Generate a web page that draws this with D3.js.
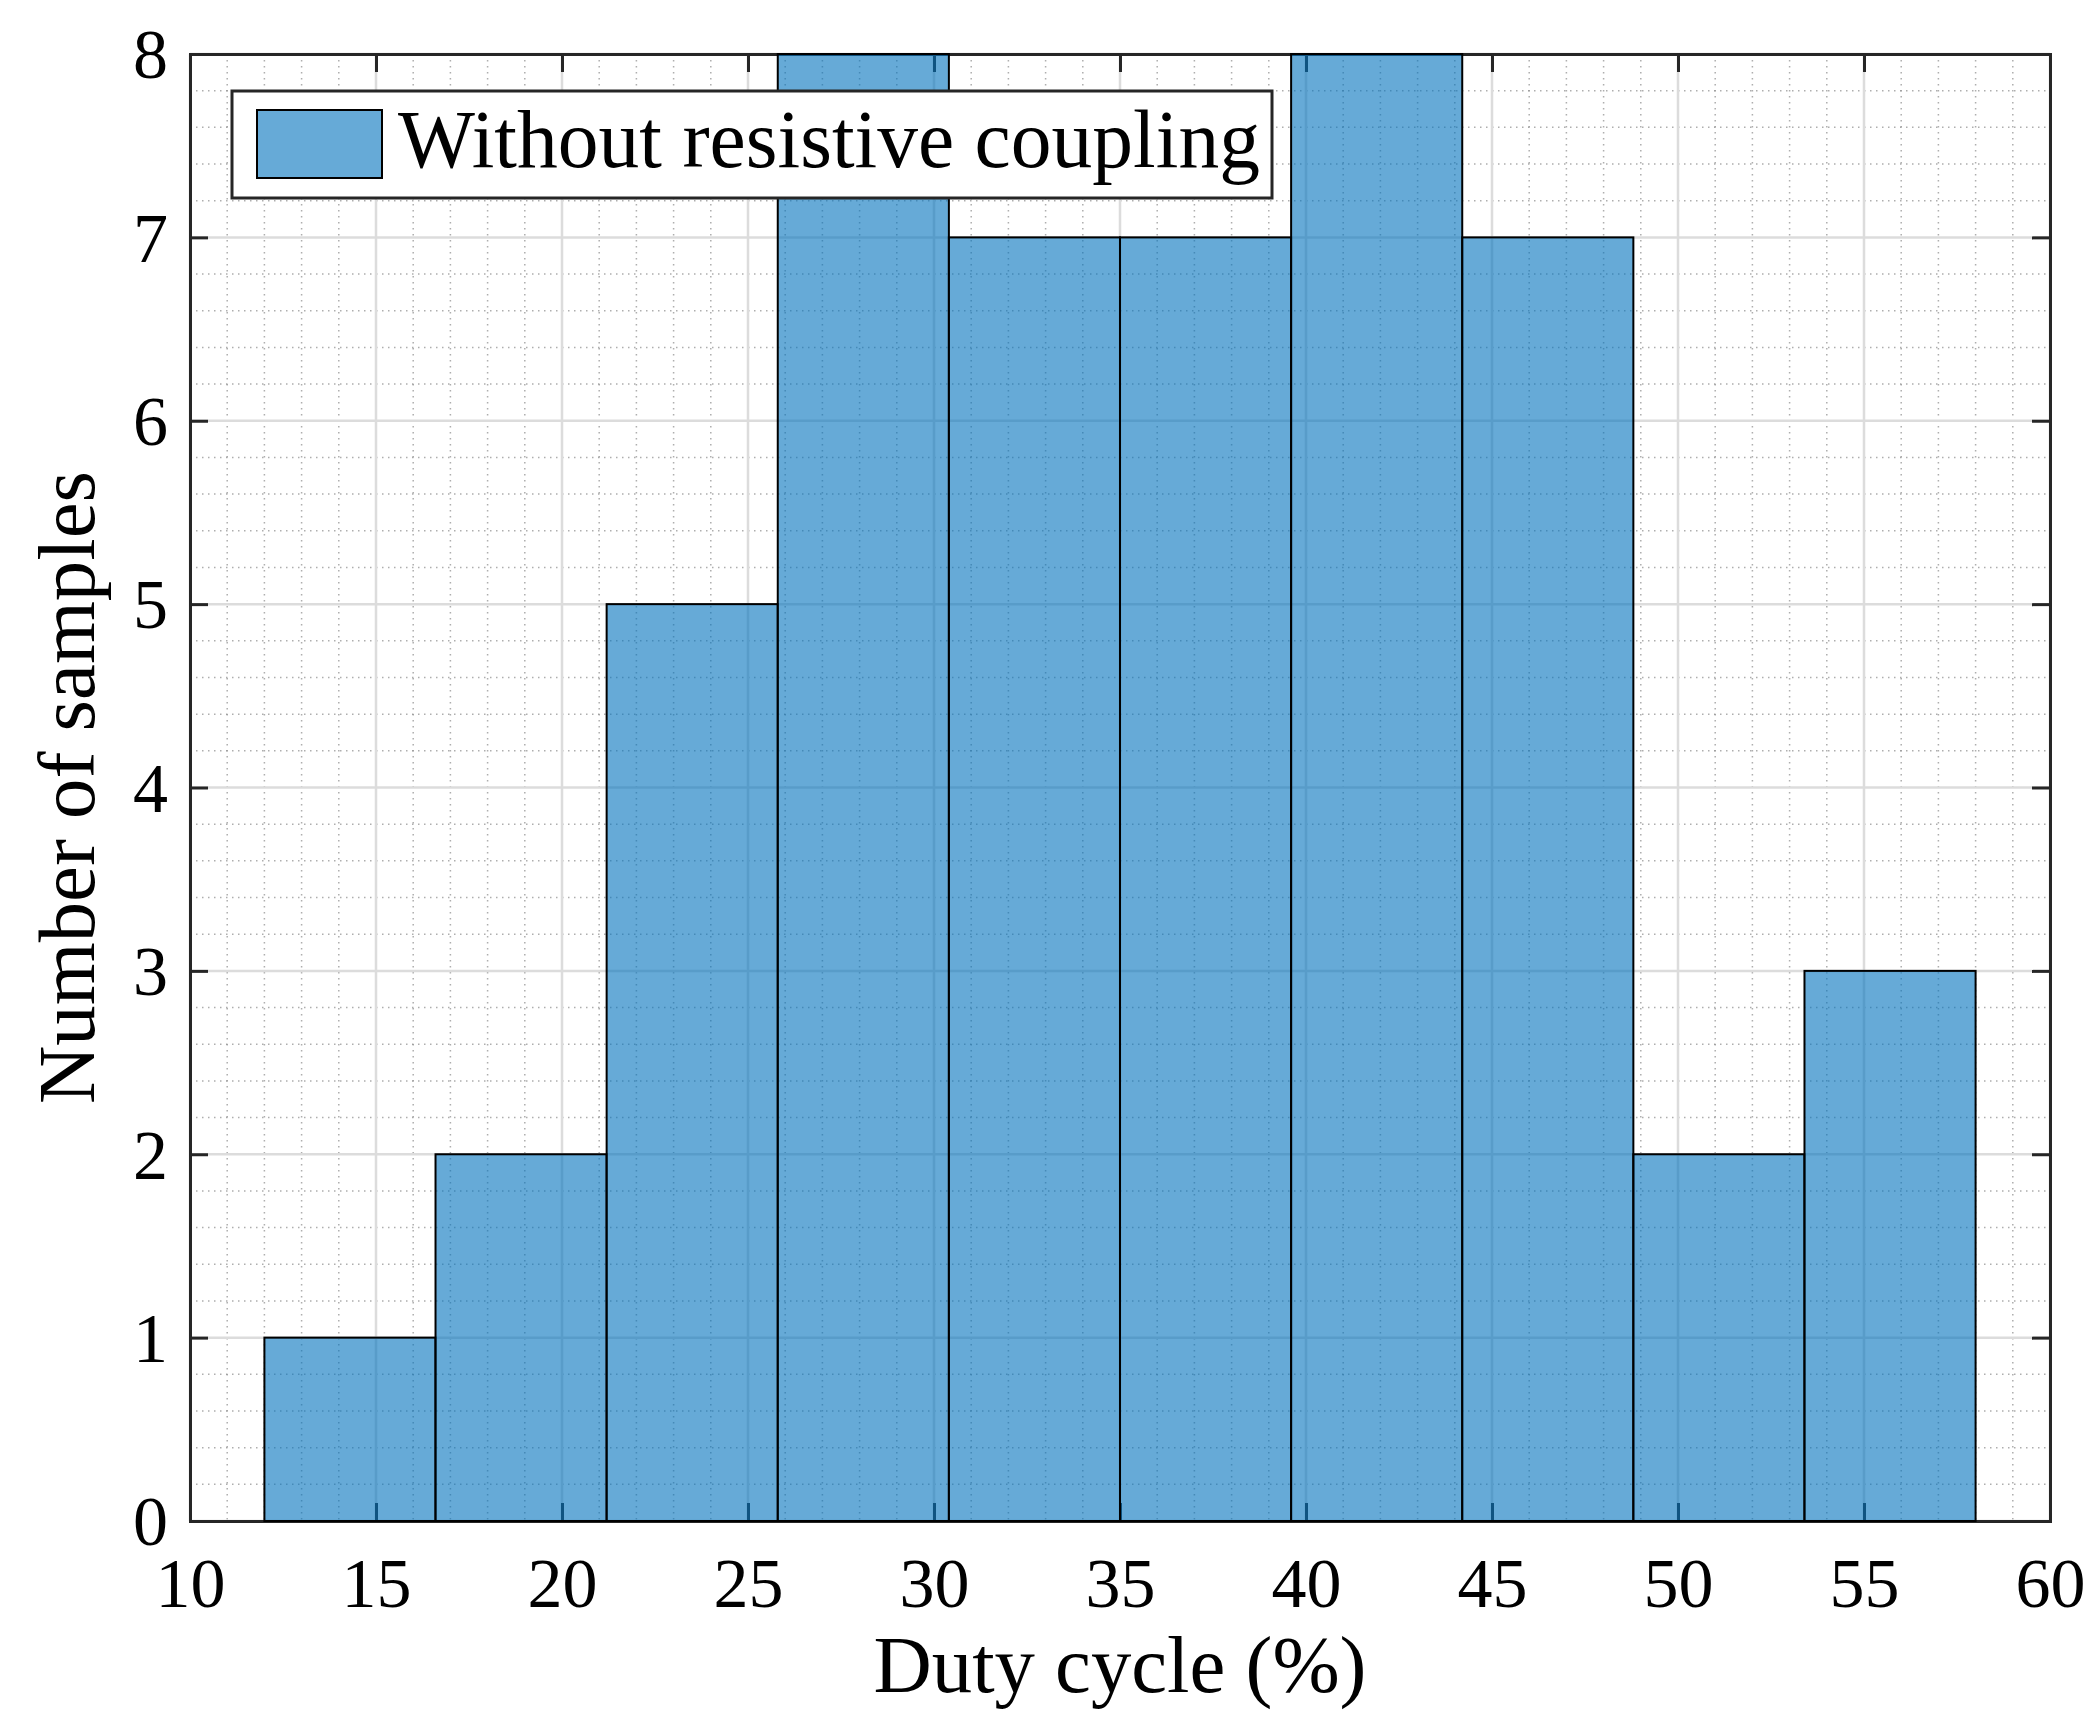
<!DOCTYPE html>
<html>
<head>
<meta charset="utf-8">
<script src="https://cdn.jsdelivr.net/npm/d3@7"></script>
<style>
  body { margin: 0; background: #fff; }
  text { font-family: "Liberation Serif", "DejaVu Serif", serif; fill: #000; }
</style>
</head>
<body>
<script>
// histogram data
var binEdges = [12.0, 16.6, 21.2, 25.8, 30.4, 35.0, 39.6, 44.2, 48.8, 53.4, 58.0];
var counts = [1, 2, 5, 8, 7, 7, 8, 7, 2, 3];
var xTicks = [10, 15, 20, 25, 30, 35, 40, 45, 50, 55, 60];
var yTicks = [0, 1, 2, 3, 4, 5, 6, 7, 8];
var legendLabel = "Without resistive coupling";
var xLabel = "Duty cycle (%)";
var yLabel = "Number of samples";

var svgWidth = 2100;
var svgHeight = 1714;
var margin = { top: 54, right: 50, bottom: 193, left: 190 };
var width = svgWidth - margin.left - margin.right;
var height = svgHeight - margin.top - margin.bottom;

var svg = d3.select("body").append("svg")
  .attr("width", svgWidth)
  .attr("height", svgHeight);

var g = svg.append("g")
  .attr("transform", `translate(${margin.left}, ${margin.top})`);

var x = d3.scaleLinear().domain([10, 60]).range([0, width]);
var y = d3.scaleLinear().domain([0, 8]).range([height, 0]);

var bins = counts.map(function (c, i) {
  return { x0: binEdges[i], x1: binEdges[i + 1], count: c };
});

// minor grid (dotted)
var xMinor = d3.range(10, 60.001, 1).filter(v => v % 5 !== 0);
var yMinor = d3.range(0, 8.001, 0.2).filter(v => Math.abs(v - Math.round(v)) > 1e-6);

g.append("g").selectAll("line").data(xMinor).enter().append("line")
  .attr("x1", d => x(d)).attr("x2", d => x(d))
  .attr("y1", 0).attr("y2", height)
  .attr("stroke", "#8c8c8c").attr("stroke-width", 1.5)
  .attr("stroke-dasharray", "1.5,4.5").attr("opacity", 0.7);

g.append("g").selectAll("line").data(yMinor).enter().append("line")
  .attr("x1", 0).attr("x2", width)
  .attr("y1", d => y(d)).attr("y2", d => y(d))
  .attr("stroke", "#8c8c8c").attr("stroke-width", 1.5)
  .attr("stroke-dasharray", "1.5,4.5").attr("opacity", 0.7);

// major grid
g.append("g").selectAll("line").data(xTicks).enter().append("line")
  .attr("x1", d => x(d)).attr("x2", d => x(d))
  .attr("y1", 0).attr("y2", height)
  .attr("stroke", "#dcdcdc").attr("stroke-width", 2.5);

g.append("g").selectAll("line").data(yTicks).enter().append("line")
  .attr("x1", 0).attr("x2", width)
  .attr("y1", d => y(d)).attr("y2", d => y(d))
  .attr("stroke", "#dcdcdc").attr("stroke-width", 2.5);

// axes with inward ticks
var tickLen = 18;
var bottomAxis = d3.axisBottom(x).tickValues(xTicks).tickSize(-tickLen).tickPadding(tickLen + 18);
var leftAxis = d3.axisLeft(y).tickValues(yTicks).tickSize(-tickLen).tickPadding(tickLen + 4);
var topAxis = d3.axisTop(x).tickValues(xTicks).tickSize(-tickLen).tickFormat("");
var rightAxis = d3.axisRight(y).tickValues(yTicks).tickSize(-tickLen).tickFormat("");

function styleAxis(sel) {
  sel.selectAll("path").attr("stroke", "#262626").attr("stroke-width", 3);
  sel.selectAll("line").attr("stroke", "#262626").attr("stroke-width", 3);
  sel.selectAll("text").style("font-size", "70px").attr("fill", "#262626");
}

g.append("g").attr("transform", `translate(0, ${height})`).call(bottomAxis).call(styleAxis);
g.append("g").call(leftAxis).call(styleAxis)
  .selectAll("text").attr("dy", "0.34em");
g.append("g").call(topAxis).call(styleAxis);
g.append("g").attr("transform", `translate(${width}, 0)`).call(rightAxis).call(styleAxis);

// bars
g.append("g").selectAll(".bar").data(bins).enter().append("rect")
  .attr("class", "bar")
  .attr("x", d => x(d.x0))
  .attr("y", d => y(d.count))
  .attr("width", d => x(d.x1) - x(d.x0))
  .attr("height", d => y(0) - y(d.count))
  .attr("fill", "#0072BD")
  .attr("fill-opacity", 0.6)
  .attr("stroke", "#000")
  .attr("stroke-width", 2);

// axis labels
svg.append("text")
  .attr("x", margin.left + width / 2)
  .attr("y", 1692)
  .attr("text-anchor", "middle")
  .attr("textLength", 493)
  .attr("lengthAdjust", "spacingAndGlyphs")
  .style("font-size", "80px")
  .text(xLabel);

svg.append("text")
  .attr("transform", `translate(94, ${margin.top + height / 2}) rotate(-90)`)
  .attr("text-anchor", "middle")
  .attr("textLength", 633)
  .attr("lengthAdjust", "spacingAndGlyphs")
  .style("font-size", "80px")
  .text(yLabel);

// legend
var legend = svg.append("g");
legend.append("rect")
  .attr("x", 232).attr("y", 91)
  .attr("width", 1040).attr("height", 107)
  .attr("fill", "#fff").attr("stroke", "#262626").attr("stroke-width", 3);
legend.append("rect")
  .attr("x", 257).attr("y", 110)
  .attr("width", 125).attr("height", 68)
  .attr("fill", "#0072BD").attr("fill-opacity", 0.6)
  .attr("stroke", "#000").attr("stroke-width", 2);
legend.append("text")
  .attr("x", 398).attr("y", 167)
  .attr("textLength", 862)
  .attr("lengthAdjust", "spacingAndGlyphs")
  .style("font-size", "82px")
  .text(legendLabel);
</script>
</body>
</html>
